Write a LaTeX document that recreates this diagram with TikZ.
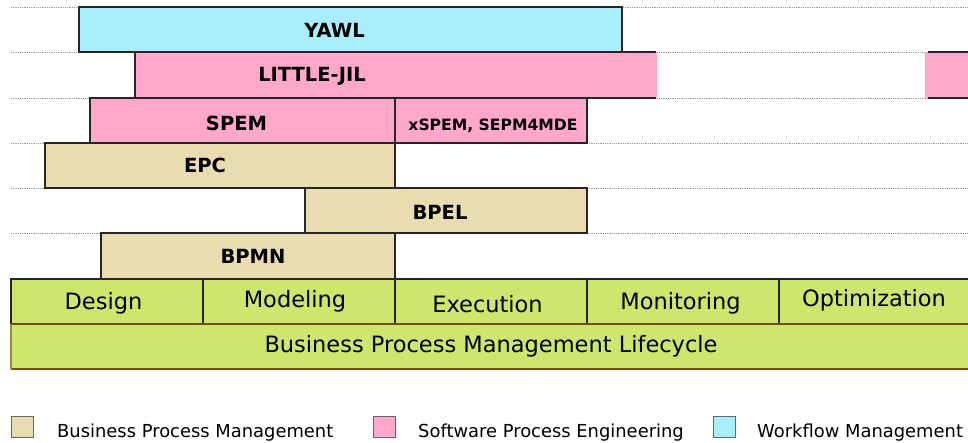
\documentclass[tikz,border=0pt]{standalone}
\usepackage{fontspec}
\setmainfont{DejaVu Sans}
\definecolor{wfcol}{HTML}{AAEEFD}
\definecolor{spcol}{HTML}{FFA8CB}
\definecolor{bpcol}{HTML}{E8DCB0}
\definecolor{lccol}{HTML}{CDE76E}
\definecolor{lcbrd}{HTML}{7A4A12}
\definecolor{gridcol}{HTML}{9A9A9A}
\tikzset{
  gridline/.style={draw=gridcol, line width=0.7pt, dash pattern=on 1pt off 0.8pt},
  boxline/.style={draw=black!85, line width=1.4pt},
  lblb/.style={anchor=base, inner sep=0pt, font=\fontsize{19.5}{20}\selectfont\bfseries},
  lbls/.style={anchor=base, inner sep=0pt, font=\fontsize{15.6}{16}\selectfont\bfseries},
  lblr/.style={anchor=base, inner sep=0pt, font=\fontsize{22.5}{23}\selectfont},
  lgtxt/.style={anchor=base west, inner sep=0pt, font=\fontsize{17.9}{18}\selectfont},
  lgbox/.style={line width=1pt},
}
\begin{document}
\begin{tikzpicture}[x=1pt,y=-1pt]
\useasboundingbox (0,0) rectangle (968,442);
% grid lines
\foreach \yy in {7,52,98,143,188,233}{\draw[gridline] (11,\yy) -- (968,\yy);}
% YAWL
\filldraw[fill=wfcol, boxline] (79,7) rectangle (622,52);
\node[lblb] (yawl) at (334.5,37.3) {YAWL};
% LITTLE-JIL
\fill[spcol] (135,52) rectangle (657,98);
\draw[boxline] (656,52) -- (135,52) -- (135,98) -- (656,98);
\fill[spcol] (925,52) rectangle (975,98);
\draw[boxline] (928,52) -- (975,52) (928,98) -- (975,98);
\node[lblb] (jil) at (312,81.7) {LITTLE-JIL};
% SPEM
\filldraw[fill=spcol, boxline] (90,98) rectangle (395,143);
\filldraw[fill=spcol, boxline] (395,98) rectangle (587,143);
\node[lblb] (spem) at (236.5,130) {SPEM};
\node[lbls] (xspem) at (493,130) {xSPEM, SEPM4MDE};
% EPC
\filldraw[fill=bpcol, boxline] (45,143) rectangle (395,188);
\node[lblb] (epc) at (205,172.7) {EPC};
% BPEL
\filldraw[fill=bpcol, boxline] (305,188) rectangle (587,233);
\node[lblb] (bpel) at (440,219.3) {BPEL};
% BPMN
\filldraw[fill=bpcol, boxline] (101,233) rectangle (395,279);
\node[lblb] (bpmn) at (253,263.3) {BPMN};
% phases
\filldraw[fill=lccol, boxline] (11,279) rectangle (203,324);
\filldraw[fill=lccol, boxline] (203,279) rectangle (395,324);
\filldraw[fill=lccol, boxline] (395,279) rectangle (587,324);
\filldraw[fill=lccol, boxline] (587,279) rectangle (779,324);
\filldraw[fill=lccol, boxline] (779,279) rectangle (975,324);
\node[lblr] (design) at (103.5,309) {Design};
\node[lblr] (modeling) at (295,307.5) {Modeling};
\node[lblr] (execution) at (487.5,312) {Execution};
\node[lblr] (monitoring) at (680.5,309) {Monitoring};
\node[lblr] (optimization) at (874,306.5) {Optimization};
% lifecycle
\fill[lccol] (11,324) rectangle (975,369);
\draw[draw=lcbrd, line width=1.4pt] (11,324) -- (975,324) (11,369) -- (975,369);
\draw[draw=lcbrd!60!lccol, line width=1.4pt] (11,324) -- (11,369);
\node[lblr] (lifecycle) at (491,352.7) {Business Process Management Lifecycle};
% legend
\filldraw[fill=bpcol, draw=black!60, lgbox] (11,416) rectangle (33,437);
\node[lgtxt] (lgbpm) at (57,437) {Business Process Management};
\filldraw[fill=spcol, draw=black!60, lgbox] (373,416) rectangle (395,437);
\node[lgtxt] (lgspe) at (418,437) {Software Process Engineering};
\filldraw[fill=wfcol, draw=black!60, lgbox] (713,416) rectangle (735,437);
\node[lgtxt] (lgwfm) at (757,437) {Workflow Management};
\end{tikzpicture}
\end{document}
